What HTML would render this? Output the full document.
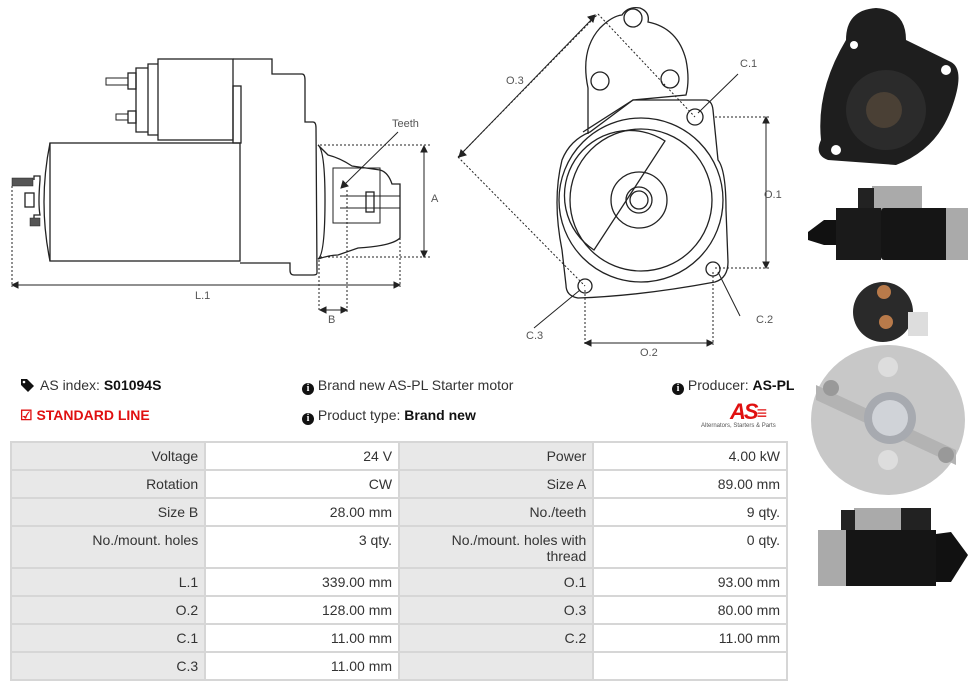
<!DOCTYPE html>
<html><head><meta charset="utf-8"><style>
body{margin:0;width:976px;height:692px;background:#fff;position:relative;overflow:hidden;font-family:"Liberation Sans Narrow","Liberation Sans",sans-serif;color:#333}
.t{position:absolute;font-size:14px;white-space:nowrap}
b{color:#111}
.i{display:inline-block;width:12px;height:12px;border-radius:50%;background:#111;color:#fff;font-size:10px;font-weight:bold;line-height:12px;text-align:center;vertical-align:-1px;font-family:"Liberation Serif",serif}
table{position:absolute;left:10px;top:441px;border-collapse:collapse;width:778px;font-size:14px}
td{border:2px solid #d6d6d6;text-align:right;padding:0 6px;height:24px;vertical-align:top;line-height:26px;width:182px;color:#333}
td.l{background:#e8e8e8}
</style></head><body>
<svg width="976" height="692" style="position:absolute;left:0;top:0" fill="none" stroke="#222" stroke-width="1.3">
<rect x="50" y="143" width="190" height="118" />
<path d="M50 143 Q38 202 50 261"/>
<rect x="158" y="59" width="75" height="81"/>
<path d="M158 64 L148 64 L148 135 L158 135"/>
<path d="M148 68 L136 68 L136 132 L148 132"/>
<rect x="128" y="73" width="8" height="16"/><rect x="106" y="78" width="22" height="7" stroke-width="1"/>
<rect x="128" y="111" width="8" height="12"/><rect x="116" y="114" width="12" height="6" stroke-width="1"/>
<path d="M233 59 L272 59 L272 74 L302 74 Q305 74 305 80 L305 122 L313 122 Q316 122 316 128 L317 273 Q317 275 313 275 L294 275 Q290 275 290 270 L290 263 L240 263"/>
<rect x="233" y="86" width="8" height="57"/>
<path d="M318 145 Q325 150 325 200 Q325 255 318 259 Q330 255 338 255 L358 248 Q392 246 400 238 L400 184 L392 184 Q388 172 380 170 L352 166 Q340 158 328 155 Z"/>
<path d="M333 168 L380 168 L380 223 L333 223 Z" stroke-width="1"/>
<rect x="366" y="192" width="8" height="20"/><path d="M340 196 L400 196 M340 208 L400 208" stroke-width="1"/>
<path d="M34 180 L34 176 L40 176 L40 180 Q38 204 40 215 L34 215 L34 219" />
<rect x="25" y="193" width="9" height="14"/>
<rect x="12" y="178" width="21" height="8" fill="#555" stroke-width="0.5"/>
<rect x="30" y="218" width="10" height="8" fill="#555" stroke-width="0.5"/>
<g stroke-dasharray="2,2" stroke-width="1">
<path d="M12 186 L12 287 M320 145 L432 145 M320 257 L432 257 M319 260 L319 312 M347 190 L347 312 M400 238 L400 287"/>
<path d="M458 157 L598 14 M598 14 L695 117 M458 157 L585 286 M715 117 L770 117 M715 268 L770 268 M585 290 L585 345 M713 272 L713 345"/>
</g>
<g stroke-width="1">
<path d="M16 285 L396 285"/><path d="M12 285 l6 -3 v6z M400 285 l-6 -3 v6z" fill="#222"/>
<path d="M424 149 L424 254"/><path d="M424 146 l-3 6 h6z M424 257 l-3 -6 h6z" fill="#222"/>
<path d="M322 310 L345 310"/><path d="M320 310 l6 -3 v6z M347 310 l-6 -3 v6z" fill="#222"/>
<path d="M398 132 L343 186"/><path d="M341 188 l2 -7 l5 5z" fill="#222"/>
<path d="M462 153 L592 19"/><path d="M459 157 l2 -7 l5 5z M595 15 l-7 2 l5 5z" fill="#222"/>
<path d="M766 120 L766 265"/><path d="M766 117 l-3 6 h6z M766 268 l-3 -6 h6z" fill="#222"/>
<path d="M589 343 L709 343"/><path d="M585 343 l6 -3 v6z M713 343 l-6 -3 v6z" fill="#222"/>
<path d="M738 74 L698 113 M740 316 L718 272 M534 328 L580 290"/>
</g>
<path d="M588 134 L588 88 Q580 50 600 28 Q612 16 622 15 Q628 6 640 8 Q650 12 648 22 Q678 28 686 60 Q690 80 686 95 L633 100 L583 132"/>
<path d="M633 100 L705 100 Q712 100 713 110 L718 160 Q726 170 726 210 L728 262 Q728 278 715 282 Q640 296 578 298 Q566 296 566 285 L562 250 Q552 200 562 160 Q570 140 590 132 Z"/>
<circle cx="633" cy="18" r="9"/><circle cx="600" cy="81" r="9"/><circle cx="670" cy="79" r="9"/>
<circle cx="695" cy="117" r="8"/><circle cx="713" cy="269" r="7"/><circle cx="585" cy="286" r="7"/>
<circle cx="641" cy="200" r="82"/><circle cx="641" cy="200" r="71"/>
<path d="M665 141 A58 58 0 0 0 594 250 Z"/>
<circle cx="639" cy="200" r="28"/><circle cx="639" cy="200" r="13"/><circle cx="639" cy="200" r="9"/>
</svg>
<div class="t" style="left:392px;top:118px;font-size:11px;color:#555">Teeth</div>
<div class="t" style="left:431px;top:193px;font-size:11px;color:#555">A</div>
<div class="t" style="left:195px;top:290px;font-size:11px;color:#555">L.1</div>
<div class="t" style="left:328px;top:314px;font-size:11px;color:#555">B</div>
<div class="t" style="left:506px;top:75px;font-size:11px;color:#555">O.3</div>
<div class="t" style="left:740px;top:58px;font-size:11px;color:#555">C.1</div>
<div class="t" style="left:764px;top:189px;font-size:11px;color:#555">O.1</div>
<div class="t" style="left:756px;top:314px;font-size:11px;color:#555">C.2</div>
<div class="t" style="left:526px;top:330px;font-size:11px;color:#555">C.3</div>
<div class="t" style="left:640px;top:347px;font-size:11px;color:#555">O.2</div>
<svg width="170" height="600" style="position:absolute;left:806px;top:0">
<path d="M40 40 Q40 10 70 8 Q100 10 100 40 L145 62 Q160 70 145 110 Q130 150 90 165 L22 160 Q8 155 15 140 Q10 90 40 40Z" fill="#1e1e1e"/>
<circle cx="80" cy="110" r="40" fill="#2b2b2b"/><circle cx="78" cy="110" r="18" fill="#4a4035"/>
<circle cx="30" cy="150" r="5" fill="#fff"/><circle cx="140" cy="70" r="5" fill="#fff"/><circle cx="48" cy="45" r="4" fill="#fff"/>
<rect x="66" y="186" width="50" height="24" fill="#aaa"/><rect x="52" y="188" width="16" height="22" fill="#222"/>
<path d="M2 232 L18 220 L30 220 L30 245 L18 245 L2 240Z" fill="#111"/>
<rect x="30" y="208" width="45" height="52" fill="#1a1a1a"/><rect x="75" y="208" width="85" height="52" rx="3" fill="#151515"/>
<rect x="140" y="208" width="22" height="52" fill="#aaa"/>
<circle cx="77" cy="312" r="30" fill="#2a2a2a"/><circle cx="78" cy="292" r="7" fill="#b87a4a"/><circle cx="80" cy="322" r="7" fill="#b87a4a"/>
<rect x="102" y="312" width="20" height="24" fill="#ddd"/>
<ellipse cx="82" cy="420" rx="77" ry="75" fill="#c8c8c8"/>
<path d="M10 385 L150 450 L150 465 L10 400Z" fill="#b3b3b3"/>
<circle cx="84" cy="418" r="26" fill="#a7aab0"/><circle cx="84" cy="418" r="18" fill="#d0d3d8"/>
<circle cx="25" cy="388" r="8" fill="#999"/><circle cx="140" cy="455" r="8" fill="#999"/>
<circle cx="82" cy="367" r="10" fill="#ddd"/><circle cx="82" cy="460" r="10" fill="#ddd"/>
<rect x="48" y="508" width="50" height="24" fill="#aaa"/><rect x="95" y="508" width="30" height="26" fill="#222"/><rect x="35" y="510" width="14" height="20" fill="#222"/>
<rect x="12" y="530" width="30" height="56" fill="#aaa"/><rect x="40" y="530" width="90" height="56" fill="#151515"/>
<path d="M130 534 L145 532 L162 555 L145 582 L130 582Z" fill="#111"/>
</svg>
<svg width="16" height="14" style="position:absolute;left:20px;top:378px"><path d="M1 1 L7 1 L14 8 L8 14 L1 7Z" fill="#111"/><circle cx="4" cy="4" r="1.3" fill="#fff"/></svg>
<div class="t" style="left:40px;top:377px">AS index: <b>S01094S</b></div>
<div class="t" style="left:20px;top:407px;color:#e01010;font-weight:bold">&#9745; STANDARD LINE</div>
<div class="t" style="left:302px;top:377px"><span class="i">i</span> Brand new AS-PL Starter motor</div>
<div class="t" style="left:302px;top:407px"><span class="i">i</span> Product type: <b>Brand new</b></div>
<div class="t" style="left:672px;top:377px"><span class="i">i</span> Producer: <b>AS-PL</b></div>
<div class="t" style="left:730px;top:399px;color:#e01010;font-weight:bold;font-style:italic;font-size:22px;letter-spacing:-2px">AS<span style="font-size:18px">&#8801;</span></div>
<div class="t" style="left:701px;top:423px;font-size:6px;color:#555">Alternators, Starters &amp; Parts</div>
<table>
<tr><td class="l">Voltage</td><td>24 V</td><td class="l">Power</td><td>4.00 kW</td></tr>
<tr><td class="l">Rotation</td><td>CW</td><td class="l">Size A</td><td>89.00 mm</td></tr>
<tr><td class="l">Size B</td><td>28.00 mm</td><td class="l">No./teeth</td><td>9 qty.</td></tr>
<tr><td class="l" style="height:40px">No./mount. holes</td><td>3 qty.</td><td class="l" style="line-height:16px;padding-top:5px">No./mount. holes with<br>thread</td><td>0 qty.</td></tr>
<tr><td class="l">L.1</td><td>339.00 mm</td><td class="l">O.1</td><td>93.00 mm</td></tr>
<tr><td class="l">O.2</td><td>128.00 mm</td><td class="l">O.3</td><td>80.00 mm</td></tr>
<tr><td class="l">C.1</td><td>11.00 mm</td><td class="l">C.2</td><td>11.00 mm</td></tr>
<tr><td class="l">C.3</td><td>11.00 mm</td><td class="l"></td><td></td></tr>
</table>
</body></html>
